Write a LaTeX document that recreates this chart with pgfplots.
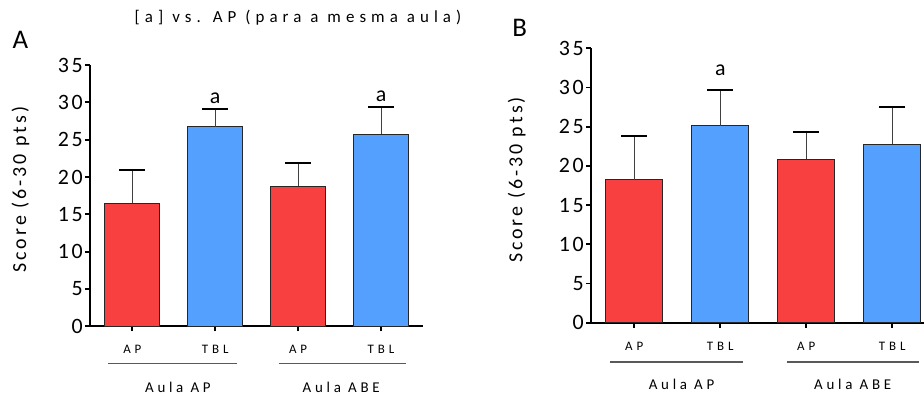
\documentclass[border=0pt]{standalone}
\usepackage{fontspec}
\setmainfont{Carlito}
\newfontfamily\spf[LetterSpace=15]{Carlito}
\newfontfamily\spy[LetterSpace=12]{Carlito}
\newfontfamily\spt[LetterSpace=30]{Carlito}
\newfontfamily\spg[LetterSpace=25]{Carlito}
\usepackage{pgfplots}
\usepackage{pgfplotstable}
\pgfplotsset{compat=1.18}
\definecolor{barred}{RGB}{248,64,64}
\definecolor{barblue}{RGB}{84,160,254}

\pgfplotstableread{
x y e
0 16.47 4.47
2 18.79 3.11
}\ArA
\pgfplotstableread{
x y e
1 26.70 2.45
3 25.70 3.70
}\AbA
\pgfplotstableread{
x y e
0 18.24 5.56
2 20.84 3.52
}\ArB
\pgfplotstableread{
x y e
1 25.13 4.59
3 22.75 4.75
}\AbB

\pgfplotsset{
 panel/.style={
  scale only axis, ymin=0, ymax=35, ytick={0,5,...,35},
  axis x line*=bottom, axis y line*=left,
  axis line style={line width=1.8bp, black},
  every tick/.style={line width=1.8bp, black},
  tick align=outside, major tick length=5bp,
  xtick={0,1,2,3}, xticklabels={},
  /pgf/number format/assume math mode=true,
  yticklabel style={font=\fontsize{22}{22}\selectfont\spy, inner sep=2bp},
  ylabel={Score (6-30 pts)},
  ylabel style={font=\fontsize{20}{20}\selectfont\spf, anchor=center},
  ybar, bar width=0.667, bar shift=0pt,
  clip=false,
 },
 eb/.style={error bars/.cd, y dir=plus, y explicit,
  error bar style={line width=1bp, black!75},
  error mark options={rotate=90, mark size=13bp, line width=1.8bp, black}},
 barr/.style={fill=barred, draw=black!85, line width=1bp, eb},
 barb/.style={fill=barblue, draw=black!85, line width=1bp, eb},
}
\newcommand{\xl}[1]{\fontsize{13}{13}\selectfont\spt #1}
\newcommand{\gl}[1]{\fontsize{15}{15}\selectfont\spg #1}

\begin{document}
\begin{tikzpicture}
\useasboundingbox (0,0) rectangle (924bp,396bp);
\node[font=\fontsize{17}{17}\selectfont\spt] at (298bp,378bp) {[a] vs. AP (para a mesma aula)};
\node[font=\fontsize{27}{27}\selectfont] at (20.5bp,356.5bp) {A};
\node[font=\fontsize{27}{27}\selectfont] at (519.7bp,368.5bp) {B};

\begin{axis}[panel, at={(90bp,69.7bp)}, anchor=south west,
  width=333.3bp, height=261.3bp, xmin=-0.51, xmax=3.51,
  ylabel style={at={(axis description cs:-0.2085,0.523)}}]
\addplot[barr] table[x=x, y=y, y error=e] {\ArA};
\addplot[barb] table[x=x, y=y, y error=e] {\AbA};
\node[font=\fontsize{22}{22}\selectfont] at (axis cs:1,30.6) {a};
\node[font=\fontsize{22}{22}\selectfont] at (axis cs:3,30.8) {a};
\node at ([yshift=-23bp]axis cs:0,0) {\xl{AP}};
\node at ([yshift=-23bp]axis cs:1,0) {\xl{TBL}};
\node at ([yshift=-23bp]axis cs:2,0) {\xl{AP}};
\node at ([yshift=-23bp]axis cs:3,0) {\xl{TBL}};
\draw[black!65, line width=1.2bp] ([yshift=-37bp]axis cs:-0.29,0) -- ([yshift=-37bp]axis cs:1.26,0);
\draw[black!65, line width=1.2bp] ([yshift=-37bp]axis cs:1.767,0) -- ([yshift=-37bp]axis cs:3.306,0);
\node at ([yshift=-60.7bp]axis cs:0.55,0) {\gl{Aula AP}};
\node at ([yshift=-60.7bp]axis cs:2.52,0) {\gl{Aula ABE}};
\end{axis}

\begin{axis}[panel, at={(591bp,73.3bp)}, anchor=south west,
  width=333bp, height=274.4bp, xmin=-0.503, xmax=3.369,
  ylabel style={at={(axis description cs:-0.223,0.52)}}]
\addplot[barr] table[x=x, y=y, y error=e] {\ArB};
\addplot[barb] table[x=x, y=y, y error=e] {\AbB};
\node[font=\fontsize{22}{22}\selectfont] at (axis cs:1,32.2) {a};
\node at ([yshift=-23.3bp]axis cs:0,0) {\xl{AP}};
\node at ([yshift=-23.3bp]axis cs:1,0) {\xl{TBL}};
\node at ([yshift=-23.3bp]axis cs:2,0) {\xl{AP}};
\node at ([yshift=-23.3bp]axis cs:3,0) {\xl{TBL}};
\draw[black!65, line width=1.2bp] ([yshift=-39.3bp]axis cs:-0.283,0) -- ([yshift=-39.3bp]axis cs:1.26,0);
\draw[black!65, line width=1.2bp] ([yshift=-39.3bp]axis cs:1.772,0) -- ([yshift=-39.3bp]axis cs:3.314,0);
\node at ([yshift=-61.3bp]axis cs:0.55,0) {\gl{Aula AP}};
\node at ([yshift=-61.3bp]axis cs:2.54,0) {\gl{Aula ABE}};
\end{axis}
\end{tikzpicture}
\end{document}
